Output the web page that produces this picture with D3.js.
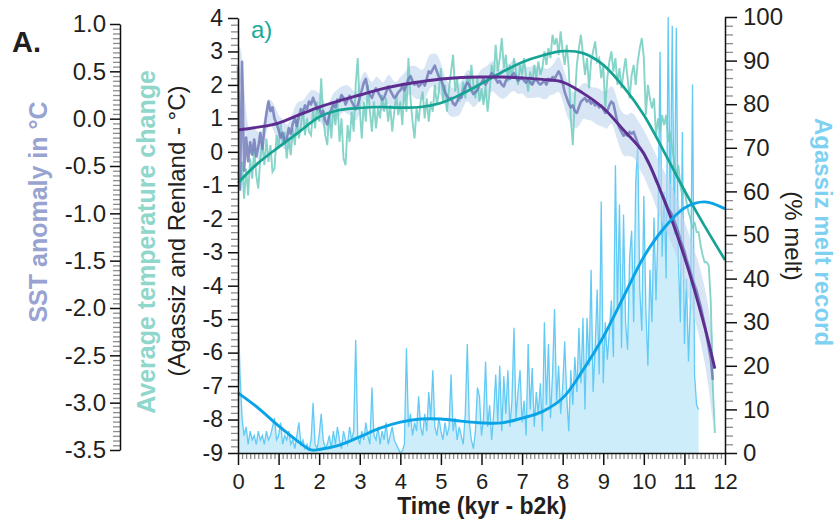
<!DOCTYPE html>
<html><head><meta charset="utf-8">
<script src="https://cdn.jsdelivr.net/npm/d3@7"></script>
<style>body{margin:0;background:#fff} svg{display:block}</style>
</head><body><svg id="c" width="837" height="528"></svg>
<script>
// ---------------- DATA ----------------
const STEP = 0.05; // kyr sampling of the noisy records
// Average temperature change (Agassiz & Renland, °C), 0.00 .. 11.75 kyr
const tempNoisy = [
-0.6,-1.1,-0.3,-1.4,-0.5,-1.3,-0.2,-0.8,0.1,-0.7,-1.1,-0.2,0.3,-0.4,0.4,-0.3,0.2,-0.6,-0.5,0.5,
0.1,0.9,0.2,0.6,-0.2,0.4,-0.1,0.7,0.2,1.0,0.4,0.8,1.3,0.5,1.0,0.6,0.5,1.3,0.7,1.5,
0.9,2.2,1.0,0.5,0.2,1.2,0.4,1.4,0.8,1.6,0.3,1.0,-0.2,-0.4,0.8,0.3,1.2,0.6,2.0,2.8,
1.3,0.4,1.5,0.9,2.0,1.2,0.6,1.5,0.7,1.3,1.0,1.7,1.2,1.6,0.9,1.4,0.6,1.2,1.7,1.1,
1.5,0.8,2.0,1.2,2.8,1.6,0.9,0.4,1.3,0.9,1.5,1.8,1.0,1.6,0.9,1.5,1.2,2.0,1.4,1.8,
2.5,1.5,2.0,1.2,1.9,2.4,2.9,1.8,2.2,1.5,1.7,2.1,1.6,2.3,1.9,2.6,2.0,1.6,2.2,1.5,
1.9,1.4,2.0,1.2,1.8,2.6,2.2,3.2,2.4,2.8,3.4,2.5,2.9,2.1,2.6,2.2,2.8,2.4,2.0,2.6,
2.3,2.8,2.2,1.8,2.4,2.0,2.6,2.2,2.7,2.3,2.5,3.0,2.6,3.1,2.8,3.5,3.2,3.4,2.9,3.6,
3.0,2.6,3.2,2.5,1.0,0.2,1.6,2.6,3.1,3.5,2.9,2.3,2.8,1.9,2.7,3.0,3.3,2.7,2.8,2.2,
2.6,1.3,2.2,2.7,3.0,2.4,2.8,2.0,2.5,1.9,2.4,2.8,2.2,1.6,2.3,2.6,2.0,2.7,3.1,3.4,
2.8,1.1,2.0,1.6,1.3,1.6,0.5,1.0,0.6,1.1,0.8,1.1,0.3,0.6,0.1,-0.3,-0.7,-0.4,-1.0,-1.3,
-1.1,-1.5,-1.8,-2.0,-2.3,-2.1,-2.4,-2.4,-2.8,-3.1,-3.3,-3.3,-3.4,-4.5,-7.0,-8.4];
// SST anomaly (°C), 0.00 .. 11.70 kyr
const sstNoisy = [
0.55,-0.75,0.6,-0.55,-0.2,-0.45,-0.25,-0.38,-0.22,-0.4,-0.3,-0.15,-0.32,-0.1,0.05,0.18,0.08,0.12,0.0,-0.05,
-0.12,-0.2,-0.15,-0.26,-0.22,-0.1,-0.16,-0.05,0.0,-0.08,0.02,0.1,0.05,0.14,0.1,0.18,0.15,0.22,0.16,0.1,
0.12,0.05,0.08,-0.02,-0.06,0.04,0.1,0.16,0.12,0.2,0.18,0.25,0.22,0.15,0.2,0.24,0.18,0.14,0.1,0.14,
0.22,0.3,0.38,0.42,0.3,0.25,0.22,0.28,0.32,0.28,0.24,0.2,0.22,0.28,0.34,0.3,0.26,0.22,0.24,0.28,
0.3,0.34,0.3,0.36,0.42,0.45,0.4,0.36,0.38,0.34,0.36,0.4,0.35,0.42,0.5,0.48,0.52,0.56,0.5,0.44,
0.42,0.36,0.28,0.24,0.2,0.22,0.16,0.14,0.18,0.24,0.22,0.28,0.34,0.38,0.36,0.3,0.26,0.28,0.3,0.36,
0.38,0.42,0.36,0.4,0.44,0.48,0.46,0.42,0.38,0.4,0.36,0.34,0.4,0.44,0.42,0.46,0.48,0.44,0.4,0.42,
0.44,0.4,0.38,0.42,0.38,0.36,0.4,0.42,0.38,0.36,0.38,0.4,0.36,0.42,0.4,0.44,0.42,0.46,0.5,0.46,
0.38,0.28,0.22,0.16,0.12,0.14,0.08,0.06,0.12,0.18,0.2,0.22,0.18,0.2,0.16,0.18,0.14,0.16,0.12,0.14,
0.1,0.06,0.08,0.14,0.18,0.16,0.06,-0.04,-0.1,-0.14,-0.18,-0.16,-0.18,-0.14,-0.16,-0.14,-0.2,-0.26,-0.3,-0.33,
-0.36,-0.42,-0.46,-0.5,-0.55,-0.6,-0.66,-0.7,-0.76,-0.8,-0.84,-0.9,-0.95,-0.98,-1.02,-1.08,-1.14,-1.2,-1.28,-1.34,
-1.4,-1.48,-1.55,-1.62,-1.7,-1.76,-1.82,-1.9,-1.98,-2.08,-2.18,-2.3,-2.42,-2.54,-2.76];
// SST uncertainty (±°C) every 0.1 kyr, 0.0 .. 11.7 kyr
const sstErr = [
.2,.18,.15,.14,.13,.15,.14,.16,.13,.15,
.14,.16,.13,.15,.14,.17,.13,.15,.16,.14,
.15,.13,.16,.14,.17,.15,.13,.16,.14,.15,
.17,.14,.16,.13,.15,.17,.14,.16,.15,.13,
.15,.17,.14,.16,.18,.15,.17,.19,.16,.2,
.17,.15,.18,.14,.16,.17,.15,.18,.16,.14,
.16,.18,.15,.17,.14,.16,.18,.15,.17,.16,
.15,.17,.16,.18,.15,.17,.16,.14,.17,.19,
.18,.2,.17,.19,.21,.18,.2,.17,.19,.2,
.18,.21,.19,.22,.2,.23,.21,.24,.22,.25,
.24,.26,.25,.28,.27,.3,.29,.31,.3,.33,
.32,.35,.34,.37,.38,.4,.42,.45];
// Agassiz melt record (% melt), 0.00 .. 11.35 kyr
const meltNoisy = [
35,18,8,4,6,2,5,3,4,2,5,3,4,2,5,3,4,6,8,3,
4,7,2,4,3,5,2,3,1,4,7,2,3,1,2,0.5,3,11.5,2,1,
4,9,3,1,2,4,1,5,2,6,3,1,5,3,2,6,3,5,26,4,
2,5,3,7,4,2,15,4,3,6,2,5,3,7,2,4,6,3,2,1,
0,0.5,2,24,6,9,4,7,5,13,6,4,9,5,14,8,19,6,4,8,
5,3,7,4,6,18,5,8,3,6,4,2,9,25,7,3,1,5,15,13,
4,8,21,6,11,3,9,18,7,20,5,17.6,9,19,6,12,28.7,8,14,19,
7,12,4,25,10,19.5,6,14,9,16,5,30,11,25,8,18,33,12,20,9,
15,25.6,13,5,19,11,22,14,28.7,16,31,10,31,20,42,14,24,37.5,18,57.7,
16,30,21.4,28,35,22,66,33,57,24,54.7,30,23.7,45,51,30,62,71,37.5,28,
59,33,20,42,30,54,35,52,92,45,60,40,100,55,98,50,97.5,45,30,73.6,
25,40,21,35,84.5,18,11,10];
// Smooth fits [kyr, value]
const tempFit = [[0,-0.93],[0.5,-0.33],[1,0.14],[1.5,0.59],[2,1.04],[2.5,1.25],[3,1.31],[3.5,1.34],[4,1.32],[4.5,1.34],[5,1.46],[5.5,1.72],[6,2.04],[6.5,2.38],[7,2.68],[7.5,2.88],[8,3.01],[8.5,2.95],[9,2.6],[9.5,1.94],[10,1.1],[10.5,0.0],[11,-1.15],[11.5,-2.22],[12,-3.23]];
const sstFit = [[0,-0.12],[0.5,-0.09],[1,-0.046],[1.5,0.04],[2,0.123],[2.5,0.19],[3,0.25],[3.5,0.31],[4,0.356],[4.5,0.39],[5,0.419],[5.5,0.435],[6,0.44],[6.5,0.44],[7,0.43],[7.5,0.415],[8,0.387],[8.5,0.27],[9,0.113],[9.5,-0.12],[10,-0.37],[10.5,-0.86],[11,-1.46],[11.5,-2.2],[11.75,-2.64]];
const meltFit = [[0,13.8],[0.5,10.3],[1,6.2],[1.5,2.5],[1.8,0.7],[2,0.8],[2.5,1.8],[3,3.7],[3.5,5.7],[4,7.1],[4.5,7.8],[5,7.8],[5.5,7.3],[6,6.9],[6.5,6.9],[7,8.0],[7.5,9.5],[8,12.6],[8.5,19],[9,26.6],[9.5,35.8],[10,45],[10.5,51.6],[11,56.2],[11.5,57.6],[12,56]];
// Tick labels
const timeTicks = [0,1,2,3,4,5,6,7,8,9,10,11,12];
const tempTicks = [4,3,2,1,0,-1,-2,-3,-4,-5,-6,-7,-8,-9];
const sstTicks = [1.0,0.5,0.0,-0.5,-1.0,-1.5,-2.0,-2.5,-3.0,-3.5];
const meltTicks = [0,10,20,30,40,50,60,70,80,90,100];

// ---------------- DRAW ----------------
const FONT = '"Liberation Sans", Arial, Helvetica, sans-serif';
const svg = d3.select("#c");
const x  = d3.scaleLinear([0,12],[238,725]);
const yT = d3.scaleLinear([-9,4],[453,18]);
const yS = d3.scaleLinear([-3.5,1.0],[450,24]);
const yM = d3.scaleLinear([0,100],[453,17]);

// melt record
svg.append("path").datum(meltNoisy)
  .attr("d", d3.area().x((d,i)=>x(i*STEP)).y0(yM(0)).y1(d=>yM(d)))
  .attr("fill","#cdedfa");
svg.append("path").datum(meltNoisy)
  .attr("d", d3.line().x((d,i)=>x(i*STEP)).y(d=>yM(d)))
  .attr("fill","none").attr("stroke","#62caf4").attr("stroke-width",1.3);

// SST band
const band = sstErr.map((e,i)=>({t:i*0.1, v:sstNoisy[Math.min(2*i, sstNoisy.length-1)], e}));
svg.append("path").datum(band)
  .attr("d", d3.area().curve(d3.curveBasis).x(d=>x(d.t)).y0(d=>yS(d.v-d.e)).y1(d=>yS(d.v+d.e)))
  .attr("fill","#bcd4ee").attr("opacity",0.6);

// temperature noisy
svg.append("path").datum(tempNoisy)
  .attr("d", d3.line().x((d,i)=>x(i*STEP)).y(d=>yT(d)))
  .attr("fill","none").attr("stroke","#72ccc0").attr("stroke-width",1.9).attr("opacity",0.85);

// SST noisy
svg.append("path").datum(sstNoisy)
  .attr("d", d3.line().x((d,i)=>x(i*STEP)).y(d=>yS(d)))
  .attr("fill","none").attr("stroke","#6d75b6").attr("stroke-width",2.6).attr("opacity",0.8)
  .attr("stroke-linejoin","round");

// smooth fits
svg.append("path").datum(tempFit)
  .attr("d", d3.line().curve(d3.curveCatmullRom.alpha(0.5)).x(d=>x(d[0])).y(d=>yT(d[1])))
  .attr("fill","none").attr("stroke","#16a394").attr("stroke-width",2.7);
svg.append("path").datum(sstFit)
  .attr("d", d3.line().curve(d3.curveCatmullRom.alpha(0.5)).x(d=>x(d[0])).y(d=>yS(d[1])))
  .attr("fill","none").attr("stroke","#5c2c8f").attr("stroke-width",2.9);
svg.append("path").datum(meltFit)
  .attr("d", d3.line().curve(d3.curveCatmullRom.alpha(0.5)).x(d=>x(d[0])).y(d=>yM(d[1])))
  .attr("fill","none").attr("stroke","#0aa4e6").attr("stroke-width",2.9);

// axes
function axisPair(gen, scale, major, minor, majLen, minLen, fmt, pad, fs, tx, ty) {
  const gMin = svg.append("g").attr("transform",`translate(${tx},${ty})`)
    .call(gen(scale).tickValues(minor).tickSize(minLen).tickFormat("").tickSizeOuter(0));
  gMin.select(".domain").remove();
  gMin.selectAll("line").attr("stroke","#8c8c8c").attr("stroke-width",1.3);
  const gMaj = svg.append("g").attr("transform",`translate(${tx},${ty})`)
    .call(gen(scale).tickValues(major).tickSize(majLen).tickPadding(pad).tickFormat(fmt).tickSizeOuter(0));
  gMaj.select(".domain").attr("stroke","#111").attr("stroke-width",1.5);
  gMaj.selectAll("line").attr("stroke","#111").attr("stroke-width",1.5);
  gMaj.selectAll("text").attr("font-size",fs).attr("font-family",FONT).attr("fill","#231f20");
  return gMaj;
}
const minorT = d3.range(0,121).map(i=>i/10).filter(v=>Math.abs(v-Math.round(v))>1e-6);
const minorTemp = d3.range(-45,21).map(i=>i/5).filter(v=>Math.abs(v-Math.round(v))>1e-6);
const minorSst = d3.range(-70,21).map(i=>i/20).filter(v=>Math.abs(v*2-Math.round(v*2))>1e-6);
const minorMelt = d3.range(0,51).map(i=>i*2).filter(v=>v%10!==0);

axisPair(d3.axisBottom, x, timeTicks, minorT, 12, 6, d=>String(d), 8, 22, 0, 453);
axisPair(d3.axisLeft, yT, tempTicks, minorTemp, 10, 7, d=>String(d), 5, 23, 238, 0);
axisPair(d3.axisLeft, yS, sstTicks, minorSst, 10, 7, d=>d.toFixed(1), 4, 24, 120, 0);
axisPair(d3.axisRight, yM, meltTicks, minorMelt, 12, 8, d=>String(d), 6, 24, 725, 0);

// titles
function txt(s, opts) {
  return svg.append("text").text(s).attr("font-family",FONT)
    .attr("font-size",opts.fs).attr("fill",opts.fill||"#231f20")
    .attr("font-weight",opts.bold?"bold":"normal")
    .attr("text-anchor",opts.anchor||"middle")
    .attr("transform",`translate(${opts.x},${opts.y}) rotate(${opts.rot||0})`);
}
txt("A.", {x:12,y:52,fs:29,bold:true,anchor:"start",fill:"#231f20"});
txt("a)", {x:251,y:38,fs:24,anchor:"start",fill:"#1aa99a"});
txt("SST anomaly in °C", {x:47,y:212,fs:25,bold:true,fill:"#98a3d1",rot:-90});
txt("Average temperature change", {x:155,y:242,fs:25,bold:true,fill:"#8fd6cb",rot:-90});
txt("(Agassiz and Renland - °C)", {x:185,y:231,fs:24,rot:-90});
txt("(% melt)", {x:785,y:236,fs:24,rot:90});
txt("Agassiz melt record", {x:815,y:232,fs:24,bold:true,fill:"#7fd1f3",rot:90});
txt("Time (kyr - b2k)", {x:482,y:514,fs:23,bold:true});
</script></body></html>
